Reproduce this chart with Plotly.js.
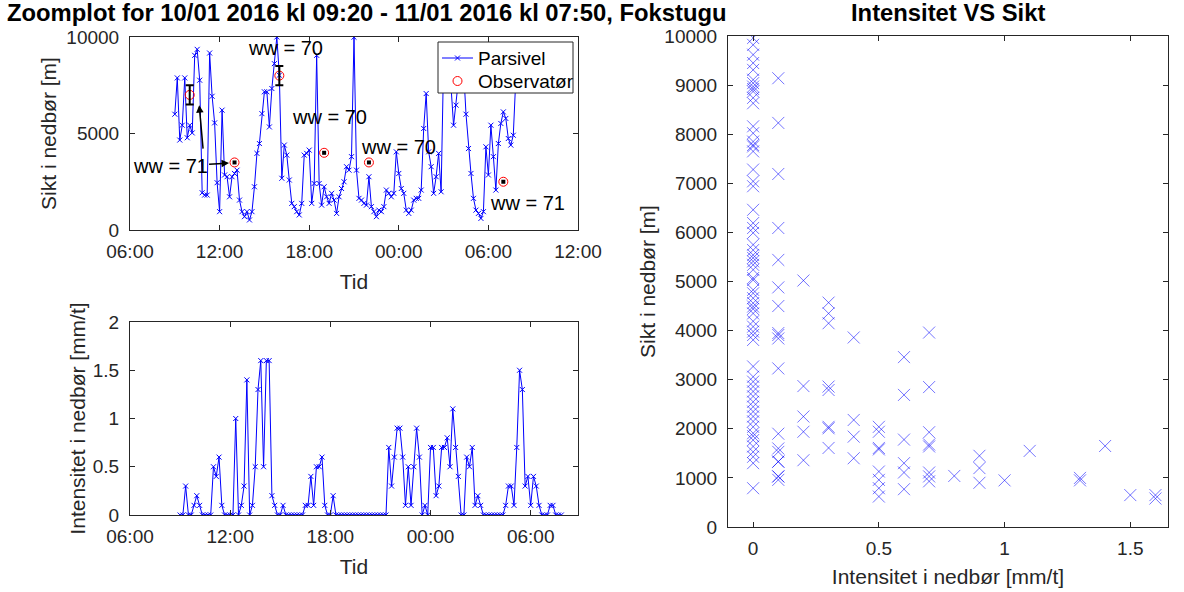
<!DOCTYPE html>
<html><head><meta charset="utf-8">
<script src="https://cdn.plot.ly/plotly-3.0.1.min.js"></script>
<style>html,body{margin:0;padding:0;background:#fff}#chart{width:1184px;height:592px}</style>
</head><body><div id="chart"></div>
<script>
// ---- data ----
const seriesStart = Date.UTC(2016, 0, 10, 9, 0);   // first Parsivel sample
const stepMinutes = 10;

const sikt = [6000, 7880, 4660, 5430, 7880, 4780, 5430, 5030, 9050, 9360,
 7760, 1930, 1810, 1810, 9170, 6930, 5550, 2450, 950, 6210,
 2850, 2760, 1720, 2760, 2930, 3100, 1550, 950, 690, 950,
 520, 950, 2240, 3970, 4480, 6030, 7160, 7160, 5340, 7330,
 8620, 10000, 8020, 2680, 4400, 3880, 2590, 1380, 1210, 950,
 780, 1380, 3880, 3970, 4140, 1380, 2410, 9050, 2410, 1290,
 2240, 1720, 1380, 1900, 1550, 860, 1720, 2150, 2500, 3280,
 3100, 3800, 9990, 3100, 1640, 1550, 1380, 1290, 2760, 1210,
 950, 690, 1030, 950, 1210, 2070, 1900, 1720, 1900, 4050,
 2930, 2150, 1900, 1030, 860, 1030, 1550, 1640, 1640, 2070,
 5260, 7070, 4050, 3280, 1900, 2760, 3970, 1980, 8800, 9400,
 8000, 7400, 5430, 6470, 7800, 9000, 8400, 6000, 4220, 2930,
 1640, 1030, 860, 600, 950, 4310, 2850, 5430, 3800, 2070,
 4480, 5520, 6120, 5780, 4740, 4400, 4910, 7800];

const intensitet = [0, 0, 0.3, 0, 0, 0.1, 0.2, 0.1, 0, 0,
 0, 0, 0.5, 0.4, 0.6, 0.1, 0, 0, 0, 0,
 1.0, 0, 0.1, 0.3, 1.4, 0, 0.1, 0.5, 1.3, 1.6,
 0.5, 1.6, 1.6, 0.2, 0.1, 0, 0, 0.1, 0, 0,
 0, 0, 0, 0, 0, 0.1, 0.1, 0.4, 0.1, 0.5,
 0.5, 0.6, 0.1, 0, 0, 0.2, 0, 0, 0, 0,
 0, 0, 0, 0, 0, 0, 0, 0, 0, 0,
 0, 0, 0, 0, 0, 0.7, 0.3, 0.6, 0.9, 0.9,
 0.6, 0.1, 0.5, 0.1, 0.5, 0.9, 0.6, 0, 0.1, 0,
 0.7, 0.7, 0.2, 0.3, 0.7, 0.7, 0.8, 0.5, 1.1, 0.7,
 0.4, 0, 0, 0.6, 0.5, 0.7, 0.1, 0.2, 0.1, 0,
 0, 0, 0, 0, 0, 0, 0, 0.1, 0.3, 0.3,
 0.1, 0.7, 1.5, 1.3, 0.3, 0.4, 0.1, 0.4, 0.3, 0.1,
 0, 0, 0, 0.1, 0.1, 0, 0, 0];

const obsTimes = ['2016-01-10 10:00', '2016-01-10 13:00', '2016-01-10 16:00', '2016-01-10 19:00', '2016-01-10 22:00', '2016-01-11 07:00'];
const obsSikt = [7000, 3500, 8000, 4000, 3500, 2500];
const obsExactTimes = ['2016-01-10 13:00', '2016-01-10 19:00', '2016-01-10 22:00', '2016-01-11 07:00'];
const obsExactSikt = [3500, 4000, 3500, 2500];
const obsRangeTimes = ['2016-01-10 10:00', '2016-01-10 16:00'];
const obsRangeSikt = [7000, 8000];
const obsRangeHalf = [500, 500];

const wwLabels = ['ww = 70', 'ww = 70', 'ww = 70', 'ww = 71'];
const wwTimes = ['2016-01-10 16:24', '2016-01-10 19:20', '2016-01-11 00:00', '2016-01-11 08:39'];
const wwSikt = [9440, 5860, 4310, 1380];

const legendNames = ['Parsivel', 'Observatør'];

const scatterLevels = [0, 0.1, 0.2, 0.3, 0.4, 0.5, 0.6, 0.7, 0.8, 0.9, 1.0, 1.1, 1.3, 1.4, 1.5, 1.6];
const scatterSikt = [
 [9960, 9820, 9620, 9450, 9310, 9110, 9040, 8970, 8920, 8870, 8740, 8630, 8160, 8020, 7850, 7780, 7750, 7650, 7280, 7040, 6940, 6460, 6190, 6090, 5990, 5750, 5640, 5540, 5480, 5410, 5340, 5240, 5070, 5030, 4830, 4760, 4660, 4560, 4490, 4440, 4350, 4190, 4080, 3980, 3910, 3810, 3270, 3060, 2960, 2860, 2760, 2660, 2550, 2450, 2350, 2250, 2150, 2040, 1910, 1850, 1770, 1640, 1530, 1430, 1300, 790],
 [9140, 8230, 7190, 6090, 5440, 4880, 4500, 3950, 3910, 3840, 3230, 1900, 1600, 1530, 1330, 1330, 1030, 1030, 960],
 [5020, 2870, 2250, 1940, 1360],
 [4570, 4350, 4150, 2860, 2790, 2040, 2010, 1610],
 [3860, 2180, 1840, 1400],
 [2040, 1940, 1610, 1580, 1130, 960, 790, 620],
 [3460, 2690, 1780, 1300, 1110, 770],
 [3960, 2850, 1930, 1680, 1640, 1110, 1030, 930],
 [1040],
 [1450, 1200, 900],
 [950],
 [1550],
 [1000, 950],
 [1650],
 [650],
 [650, 580]
];

// ---- build ----
function fmt(ms) { return new Date(ms).toISOString().slice(0, 19).replace('T', ' '); }
const times = sikt.map((_, i) => fmt(seriesStart + i * stepMinutes * 60000));

const scX = [], scY = [];
scatterLevels.forEach((lv, k) => scatterSikt[k].forEach(v => { scX.push(lv); scY.push(v); }));

const FONT = 'Liberation Sans, Arial, Helvetica, sans-serif';
const AX = '#262626';
const BLUE = '#0000ff';
const RED = '#ff0000';

const lineStyle = { color: BLUE, width: 1 };
const xMarker = { symbol: 'x-thin-open', size: 5, color: BLUE, line: { color: BLUE, width: 1 } };

const traces = [
  { x: times, y: sikt, xaxis: 'x', yaxis: 'y', mode: 'lines+markers', name: legendNames[0],
    line: lineStyle, marker: xMarker },
  { x: obsTimes, y: obsSikt, xaxis: 'x', yaxis: 'y', mode: 'markers', name: legendNames[1],
    marker: { symbol: 'circle-open', size: 9, color: RED, line: { color: RED, width: 1 } } },
  { x: obsRangeTimes, y: obsRangeSikt, xaxis: 'x', yaxis: 'y', mode: 'markers',
    marker: { size: 1, color: 'rgba(0,0,0,0)' },
    error_y: { type: 'data', array: obsRangeHalf, symmetric: true, color: '#000', thickness: 2, width: 4 } },
  { x: obsExactTimes, y: obsExactSikt, xaxis: 'x', yaxis: 'y', mode: 'markers',
    marker: { symbol: 'square', size: 4, color: '#000' } },
  { x: times, y: intensitet, xaxis: 'x2', yaxis: 'y2', mode: 'lines+markers',
    line: lineStyle, marker: xMarker },
  { x: scX, y: scY, xaxis: 'x3', yaxis: 'y3', mode: 'markers',
    marker: { symbol: 'x-thin-open', size: 12, color: 'rgba(0,0,255,0.55)', line: { color: 'rgba(0,0,255,0.55)', width: 1 } } }
];

const W = 1184, H = 592;
const px = v => v / W, py = v => (H - v) / H;
const dx = (a, b) => [a / W, b / W];
const dy = (top, bottom) => [(H - bottom) / H, (H - top) / H];

const base = {
  showline: true, mirror: 'ticks', linecolor: AX, linewidth: 1,
  ticks: 'inside', ticklen: 5, tickcolor: AX, tickwidth: 1,
  tickfont: { family: FONT, size: 19, color: AX },
  zeroline: false, showgrid: false, fixedrange: true
};
const tfont = { family: FONT, size: 21, color: AX };

// legend box (drawn by hand so its row spacing matches the original)
const LG = { left: 438, right: 573, top: 42, bottom: 93, row1: 58, row2: 81, symL: 442, symR: 473, textX: 476 };
const symC = (LG.symL + LG.symR) / 2;
const pshape = o => Object.assign({ xref: 'paper', yref: 'paper', layer: 'above' }, o);
const shapes = [
  pshape({ type: 'rect', x0: px(LG.left), x1: px(LG.right), y0: py(LG.bottom), y1: py(LG.top),
    fillcolor: '#fff', line: { color: AX, width: 1 } }),
  pshape({ type: 'line', x0: px(LG.symL), x1: px(LG.symR), y0: py(LG.row1), y1: py(LG.row1), line: { color: BLUE, width: 1 } }),
  pshape({ type: 'line', x0: px(symC - 2.5), x1: px(symC + 2.5), y0: py(LG.row1 - 2.5), y1: py(LG.row1 + 2.5), line: { color: BLUE, width: 1 } }),
  pshape({ type: 'line', x0: px(symC - 2.5), x1: px(symC + 2.5), y0: py(LG.row1 + 2.5), y1: py(LG.row1 - 2.5), line: { color: BLUE, width: 1 } }),
  pshape({ type: 'circle', x0: px(symC - 4.5), x1: px(symC + 4.5), y0: py(LG.row2 + 4.5), y1: py(LG.row2 - 4.5), line: { color: RED, width: 1 } })
];

const layout = {
  width: W, height: H, margin: { l: 0, r: 0, t: 0, b: 0 },
  paper_bgcolor: '#fff', plot_bgcolor: '#fff',
  font: { family: FONT, color: AX },
  showlegend: false,
  shapes: shapes,
  xaxis: Object.assign({}, base, { type: 'date', domain: dx(130, 578), anchor: 'y',
    range: ['2016-01-10 06:00', '2016-01-11 12:00'], tick0: '2016-01-10 00:00', dtick: 6 * 3600000,
    tickformat: '%H:%M', ticklabelstandoff: 4, title: { text: 'Tid', font: tfont, standoff: 13 } }),
  yaxis: Object.assign({}, base, { domain: dy(37, 230), anchor: 'x', range: [0, 10000],
    tickvals: [0, 5000, 10000], tickformat: 'd', ticklabelstandoff: 6,
    title: { text: 'Sikt i nedbør [m]', font: tfont, standoff: 4 } }),
  xaxis2: Object.assign({}, base, { type: 'date', domain: dx(130, 578), anchor: 'y2',
    range: ['2016-01-10 06:00', '2016-01-11 08:50'], tick0: '2016-01-10 00:00', dtick: 6 * 3600000,
    tickformat: '%H:%M', ticklabelstandoff: 4, title: { text: 'Tid', font: tfont, standoff: 13 } }),
  yaxis2: Object.assign({}, base, { domain: dy(322, 515), anchor: 'x2', range: [0, 2],
    tickvals: [0, 0.5, 1, 1.5, 2], ticklabelstandoff: 6,
    title: { text: 'Intensitet i nedbør [mm/t]', font: tfont, standoff: 1 } }),
  xaxis3: Object.assign({}, base, { domain: dx(728, 1168), anchor: 'y3',
    range: [-0.1, 1.65], tickvals: [0, 0.5, 1, 1.5], ticklabelstandoff: 4,
    title: { text: 'Intensitet i nedbør [mm/t]', font: tfont, standoff: 11 } }),
  yaxis3: Object.assign({}, base, { domain: dy(36, 527), anchor: 'x3', range: [0, 10000],
    dtick: 1000, tickformat: 'd', ticklabelstandoff: 6,
    title: { text: 'Sikt i nedbør [m]', font: tfont, standoff: 3 } }),
  annotations: [
    { xref: 'paper', yref: 'paper', x: px(367), y: py(13), xanchor: 'center', yanchor: 'middle', showarrow: false,
      text: '<b>Zoomplot for 10/01 2016 kl 09:20 - 11/01 2016 kl 07:50, Fokstugu</b>',
      font: { family: FONT, size: 23.8, color: '#000' } },
    { xref: 'paper', yref: 'paper', x: px(948), y: py(13), xanchor: 'center', yanchor: 'middle', showarrow: false,
      text: '<b>Intensitet VS Sikt</b>', font: { family: FONT, size: 23.8, color: '#000' } },
    { xref: 'paper', yref: 'paper', x: px(LG.textX), y: py(LG.row1), xanchor: 'left', yanchor: 'middle', showarrow: false,
      text: legendNames[0], font: { family: FONT, size: 19, color: '#000' } },
    { xref: 'paper', yref: 'paper', x: px(LG.textX), y: py(LG.row2), xanchor: 'left', yanchor: 'middle', showarrow: false,
      text: legendNames[1], font: { family: FONT, size: 19, color: '#000' } },
    { xref: 'x', yref: 'y', x: '2016-01-10 12:38', y: 3466, ax: -59, ay: 3, text: 'ww = 71',
      showarrow: true, arrowhead: 2, arrowsize: 1, arrowwidth: 1.5, arrowcolor: '#000', standoff: 0,
      font: { family: FONT, size: 20, color: '#000' } },
    { xref: 'x', yref: 'y', x: '2016-01-10 10:38', y: 6467, ax: 4, ay: 45, text: '',
      showarrow: true, arrowhead: 2, arrowsize: 1, arrowwidth: 1.5, arrowcolor: '#000', standoff: 0 }
  ].concat(wwLabels.map((t, k) => ({ xref: 'x', yref: 'y', x: wwTimes[k], y: wwSikt[k], text: t,
      showarrow: false, font: { family: FONT, size: 20, color: '#000' } })))
};

Plotly.newPlot('chart', traces, layout, { staticPlot: true, displayModeBar: false });
</script>
</body></html>
